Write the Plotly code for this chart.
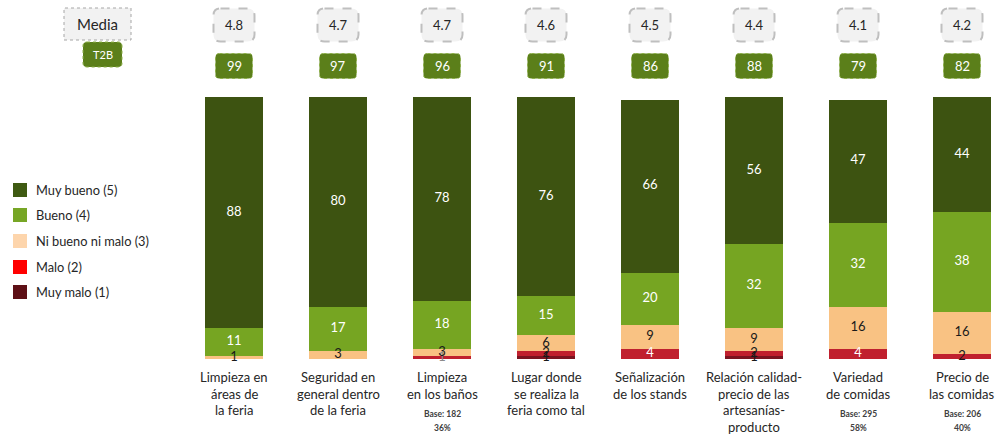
import plotly.graph_objects as go

# ---------------- data ----------------
categories = [
    "Limpieza en\náreas de\nla feria",
    "Seguridad en\ngeneral dentro\nde la feria",
    "Limpieza\nen los baños",
    "Lugar donde\nse realiza la\nferia como tal",
    "Señalización\nde los stands",
    "Relación calidad-\nprecio de las\nartesanías-\nproducto",
    "Variedad\nde comidas",
    "Precio de\nlas comidas",
]
muy_malo = [0, 0, 0, 1, 0, 1, 0, 0]
malo = [0, 0, 1, 2, 4, 2, 4, 2]
ni_bueno_ni_malo = [1, 3, 3, 6, 9, 9, 16, 16]
bueno = [11, 17, 18, 15, 20, 32, 32, 38]
muy_bueno = [88, 80, 78, 76, 66, 56, 47, 44]
media = ["4.8", "4.7", "4.7", "4.6", "4.5", "4.4", "4.1", "4.2"]
t2b = [99, 97, 96, 91, 86, 88, 79, 82]
base_notes = {2: ("Base: 182", "36%"), 6: ("Base: 295", "58%"), 7: ("Base: 206", "40%")}
series_names = ["Muy bueno (5)", "Bueno (4)", "Ni bueno ni malo (3)", "Malo (2)", "Muy malo (1)"]

# ---------------- styles ----------------
FONT = "Lato, 'Open Sans', sans-serif"
bar_colors = {"Muy malo (1)": "#7A1420", "Malo (2)": "#C0202E", "Ni bueno ni malo (3)": "#F9C283",
              "Bueno (4)": "#76A522", "Muy bueno (5)": "#3D5311"}
legend_colors = {"Muy bueno (5)": "#3F5A12", "Bueno (4)": "#77A625", "Ni bueno ni malo (3)": "#FDD5AC",
                 "Malo (2)": "#FF0000", "Muy malo (1)": "#5E1016"}

W, H = 1005, 434
X0, DX = 234.0, 104.0      # pixel of first bar center, spacing
Y0, KY = 359.0, 2.62       # pixel of value 0, pixels per unit

def y_of(py):
    return (Y0 - py) / KY

def x_of(px):
    return (px - X0) / DX

x = list(range(len(categories)))

stack = [("Muy malo (1)", muy_malo), ("Malo (2)", malo), ("Ni bueno ni malo (3)", ni_bueno_ni_malo),
         ("Bueno (4)", bueno), ("Muy bueno (5)", muy_bueno)]

fig = go.Figure()
for name, vals in stack:
    fig.add_trace(go.Bar(x=x, y=vals, name=name, marker_color=bar_colors[name],
                         marker_line_width=0, width=58 / DX, showlegend=False, hoverinfo="skip"))

# value labels at segment centers
cum = [0] * len(x)
for name, vals in stack:
    xs, ys, ts, cs = [], [], [], []
    for i, v in enumerate(vals):
        if v > 0:
            xs.append(i)
            ys.append(cum[i] + v / 2)
            ts.append(str(v))
            if name in ("Muy bueno (5)", "Bueno (4)"):
                cs.append("white")
            elif name == "Malo (2)" and v >= 3:
                cs.append("white")
            elif name == "Malo (2)" and v == 1:
                cs.append("#8C8C8C")
            else:
                cs.append("#1a1a1a")
        cum[i] += v
    fig.add_trace(go.Scatter(x=xs, y=ys, text=ts, mode="text", textposition="middle center",
                             textfont=dict(family=FONT, size=13, color=cs), showlegend=False,
                             hoverinfo="skip", cliponaxis=False))

shapes = []
annotations = []

def rrect(cx_px, cy_px, w, h, r):
    # rounded rectangle path in data coords from pixel geometry
    l, rt, t, b = cx_px - w / 2, cx_px + w / 2, cy_px - h / 2, cy_px + h / 2
    def P(px, py):
        return f"{x_of(px):.5f},{y_of(py):.5f}"
    return (f"M {P(l + r, t)} L {P(rt - r, t)} Q {P(rt, t)} {P(rt, t + r)} "
            f"L {P(rt, b - r)} Q {P(rt, b)} {P(rt - r, b)} L {P(l + r, b)} "
            f"Q {P(l, b)} {P(l, b - r)} L {P(l, t + r)} Q {P(l, t)} {P(l + r, t)} Z")

# header boxes
for i in x:
    cx = X0 + DX * i
    shapes.append(dict(type="path", path=rrect(cx, 25, 41, 33, 7), xref="x", yref="y",
                       fillcolor="#F2F2F2", line=dict(color="#BFBFBF", width=2, dash="dash")))
    annotations.append(dict(x=i, y=y_of(25), text=media[i], showarrow=False,
                            font=dict(family=FONT, size=13, color="#262626")))
    shapes.append(dict(type="path", path=rrect(cx, 66, 37, 25, 4), xref="x", yref="y",
                       fillcolor="#5B7F1A", line=dict(color="#8DB04A", width=1, dash="dot")))
    annotations.append(dict(x=i, y=y_of(66), text=str(t2b[i]), showarrow=False,
                            font=dict(family=FONT, size=13, color="white")))

# "Media" / "T2B" header labels
shapes.append(dict(type="rect", xref="x", yref="y", x0=x_of(64), x1=x_of(131), y0=y_of(40), y1=y_of(8),
                   fillcolor="#F2F2F2", line=dict(color="#A6A6A6", width=1, dash="dot")))
annotations.append(dict(x=x_of(97.5), y=y_of(24), text="Media", showarrow=False,
                        font=dict(family=FONT, size=15, color="#262626")))
shapes.append(dict(type="path", path=rrect(102.5, 54.5, 39, 25, 4), xref="x", yref="y",
                   fillcolor="#5B7F1A", line=dict(color="#8DB04A", width=1, dash="dot")))
annotations.append(dict(x=x_of(102.5), y=y_of(54.5), text="T2B", showarrow=False,
                        font=dict(family=FONT, size=11, color="white")))

# legend
leg_y = [190, 215, 241, 267, 292]
for k, name in enumerate(series_names):
    py = leg_y[k]
    shapes.append(dict(type="rect", xref="x", yref="y", x0=x_of(13), x1=x_of(27),
                       y0=y_of(py + 7), y1=y_of(py - 7), fillcolor=legend_colors[name], line_width=0))
    annotations.append(dict(x=x_of(34), y=y_of(py), text=name, showarrow=False, xanchor="left",
                            font=dict(family=FONT, size=12.8, color="#262626")))

# category labels
for i, lab in enumerate(categories):
    for k, line in enumerate(lab.split("\n")):
        annotations.append(dict(x=i, y=y_of(377 + 16.5 * k), text=line, showarrow=False,
                                font=dict(family=FONT, size=13, color="#262626")))
for i, (b1, b2) in base_notes.items():
    annotations.append(dict(x=i, y=y_of(413.5), text=f"<b>{b1}</b>", showarrow=False,
                            font=dict(family=FONT, size=8.5, color="#404040")))
    annotations.append(dict(x=i, y=y_of(427.5), text=f"<b>{b2}</b>", showarrow=False,
                            font=dict(family=FONT, size=8.5, color="#404040")))

fig.update_layout(
    barmode="stack",
    width=W, height=H,
    margin=dict(l=0, r=0, t=0, b=0),
    paper_bgcolor="white", plot_bgcolor="white",
    xaxis=dict(range=[x_of(0), x_of(W)], visible=False, fixedrange=True),
    yaxis=dict(range=[y_of(H), y_of(0)], visible=False, fixedrange=True),
    shapes=shapes, annotations=annotations,
    showlegend=False,
)

fig.write_html("out.html", config={"displayModeBar": False},
               post_script="document.body.style.margin='0';document.body.style.overflow='hidden';")
